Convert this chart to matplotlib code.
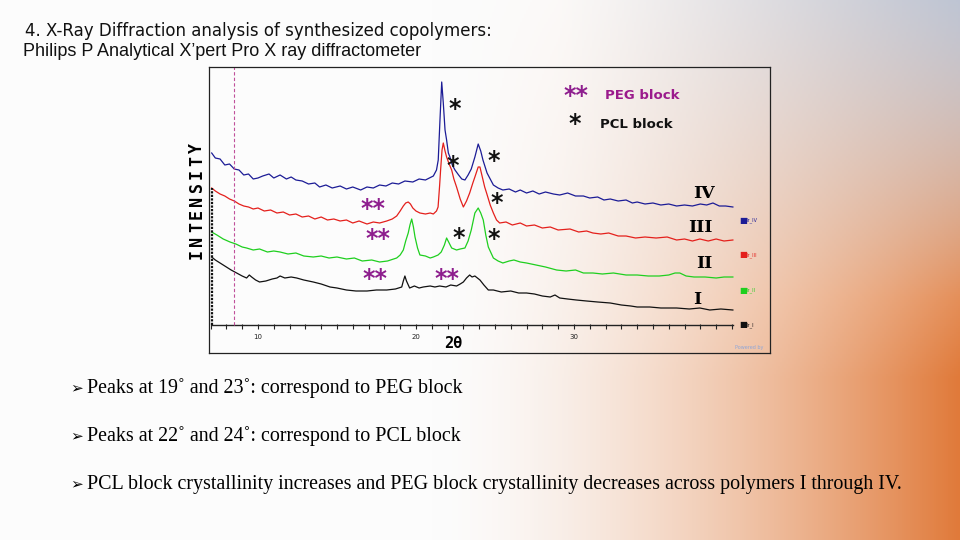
import numpy as np
import matplotlib
matplotlib.use("Agg")
import matplotlib.pyplot as plt

# XRD traces: (2theta, intensity in arbitrary units, offset per sample)
curve_iv = [(7.07, 172), (7.3, 167), (7.6, 166), (7.9, 160), (8.2, 161), (8.5, 156), (8.8, 155),
            (9.1, 150), (9.4, 151), (9.7, 146), (10.0, 147), (10.3, 149), (10.7, 151), (11.0, 147),
            (11.4, 150), (11.8, 146), (12.1, 148), (12.4, 145), (12.8, 144), (13.2, 141), (13.6, 142),
            (13.9, 138), (14.3, 140), (14.7, 137), (15.2, 139), (15.6, 136), (16.0, 138), (16.5, 135),
            (16.9, 138), (17.3, 137), (17.7, 140), (18.1, 139), (18.5, 142), (18.9, 141), (19.3, 144),
            (19.8, 143), (20.2, 146), (20.6, 145), (21.1, 149), (21.3, 155), (21.41, 165), (21.52, 205),
            (21.63, 243), (21.73, 222), (21.84, 195), (21.94, 185), (22.05, 172), (22.15, 168), (22.3, 160),
            (22.47, 155), (22.7, 150), (22.9, 146), (23.1, 145), (23.3, 150), (23.5, 156), (23.73, 168),
            (23.94, 181), (24.1, 174), (24.24, 165), (24.5, 152), (24.9, 140), (25.2, 137), (25.5, 135),
            (25.9, 136), (26.3, 133), (26.6, 135), (27.0, 132), (27.4, 134), (27.8, 131), (28.2, 133),
            (28.7, 131), (29.1, 130), (29.6, 132), (30.1, 129), (30.6, 129), (31.0, 127), (31.5, 128),
            (31.9, 125), (32.3, 126), (32.8, 124), (33.3, 125), (33.7, 122), (34.0, 123), (34.5, 121),
            (35.0, 122), (35.5, 120), (36.0, 121), (36.5, 119), (37.0, 120), (37.5, 119), (38.0, 121),
            (38.4, 120), (38.8, 122), (39.2, 119), (39.6, 119), (40.06, 118)]

curve_iii = [(7.07, 137), (7.3, 134), (7.6, 131), (7.9, 129), (8.2, 126), (8.5, 124), (8.8, 121),
             (9.1, 119), (9.4, 118), (9.7, 116), (10.0, 117), (10.4, 114), (10.8, 115), (11.2, 112),
             (11.6, 113), (12.0, 110), (12.4, 111), (12.8, 108), (13.2, 109), (13.6, 106), (14.0, 108),
             (14.4, 105), (14.8, 106), (15.2, 104), (15.6, 105), (16.0, 102), (16.4, 104), (16.9, 101),
             (17.3, 103), (17.7, 102), (18.15, 104), (18.5, 106), (18.78, 109), (19.0, 114), (19.2, 119),
             (19.35, 122), (19.51, 123), (19.65, 121), (19.8, 117), (20.0, 114), (20.25, 112), (20.6, 111),
             (20.9, 112), (21.1, 111), (21.3, 114), (21.4, 118), (21.5, 140), (21.56, 155), (21.65, 175),
             (21.73, 182), (21.84, 174), (21.94, 168), (22.1, 161), (22.26, 155), (22.4, 146), (22.57, 138),
             (22.8, 126), (23.0, 118), (23.2, 124), (23.4, 132), (23.6, 142), (23.73, 148), (23.94, 158),
             (24.05, 158), (24.2, 148), (24.35, 138), (24.47, 132), (24.7, 120), (24.9, 112), (25.1, 105),
             (25.3, 102), (25.7, 103), (26.1, 100), (26.6, 102), (27.0, 99), (27.5, 100), (28.0, 97),
             (28.5, 98), (29.0, 95), (29.75, 96), (30.3, 93), (30.8, 94), (31.2, 92), (31.7, 91), (32.2, 92),
             (32.8, 89), (33.3, 89), (33.9, 87), (34.5, 88), (35.2, 87), (35.9, 88), (36.5, 85), (37.0, 86),
             (37.5, 84), (37.97, 86), (38.5, 84), (39.0, 86), (39.5, 84), (40.06, 85)]

curve_ii = [(7.07, 93), (7.4, 90), (7.8, 86), (8.23, 83), (8.6, 81), (9.0, 78), (9.28, 77), (9.7, 75),
            (10.1, 76), (10.6, 73), (11.0, 74), (11.4, 73), (11.9, 71), (12.4, 72), (12.9, 69), (13.5, 68),
            (14.0, 69), (14.5, 67), (15.0, 68), (15.6, 66), (16.1, 67), (16.6, 64), (17.2, 65), (17.7, 63),
            (18.2, 64), (18.78, 67), (19.0, 70), (19.2, 75), (19.35, 84), (19.51, 92), (19.62, 100),
            (19.73, 106), (19.84, 98), (19.94, 88), (20.1, 77), (20.25, 70), (20.6, 69), (20.9, 67),
            (21.1, 68), (21.4, 70), (21.6, 73), (21.8, 80), (21.94, 87), (22.1, 82), (22.26, 77), (22.57, 75),
            (22.8, 76), (23.1, 77), (23.3, 84), (23.5, 95), (23.73, 112), (23.94, 117), (24.1, 112),
            (24.26, 105), (24.42, 90), (24.58, 78), (24.9, 67), (25.2, 64), (25.5, 62), (25.9, 64),
            (26.2, 65), (26.6, 63), (27.0, 62), (27.6, 60), (28.2, 58), (28.9, 55), (29.5, 54), (30.1, 55),
            (30.6, 52), (31.2, 52), (31.8, 51), (32.5, 52), (33.3, 50), (34.0, 50), (34.7, 49), (35.4, 49),
            (36.0, 50), (36.4, 52), (36.7, 52), (37.1, 49), (37.6, 48), (38.3, 48), (39.0, 47), (39.5, 48),
            (40.06, 48)]

curve_i = [(7.07, 68), (7.3, 65), (7.6, 62), (8.0, 58), (8.3, 55), (8.65, 52), (9.0, 49), (9.28, 47),
           (9.45, 50), (9.6, 48), (9.85, 45), (10.1, 43), (10.5, 44), (10.9, 46), (11.2, 47), (11.4, 49),
           (11.7, 47), (12.1, 48), (12.45, 47), (12.9, 45), (13.2, 44), (13.5, 43), (14.0, 41), (14.56, 38),
           (15.0, 37), (15.6, 35), (16.2, 34), (16.9, 34), (17.5, 35), (18.15, 35), (18.7, 36), (19.1, 38),
           (19.2, 44), (19.3, 49), (19.4, 44), (19.6, 37), (19.9, 39), (20.2, 37), (20.46, 38), (20.9, 39),
           (21.2, 38), (21.5, 39), (21.9, 38), (22.2, 40), (22.57, 39), (22.8, 41), (23.0, 43), (23.2, 47),
           (23.4, 50), (23.55, 48), (23.73, 49), (24.05, 45), (24.3, 40), (24.58, 35), (24.9, 35),
           (25.4, 33), (26.0, 34), (26.5, 32), (27.0, 32), (27.5, 31), (28.0, 29), (28.5, 28), (28.8, 30),
           (29.1, 27), (29.6, 26), (30.15, 25), (30.8, 24), (31.5, 23), (32.3, 22), (33.0, 20), (33.6, 19),
           (34.0, 18), (34.8, 18), (35.5, 17), (36.5, 17), (37.3, 16), (37.97, 17), (38.6, 15), (39.3, 16),
           (40.06, 15)]

sample_labels = ["IV", "III", "II", "I"]
legend_names = ["Ir_IV", "Ir_III", "Ir_II", "Ir_I"]
curve_colors = ["#1c1c96", "#e4201c", "#1fcf1f", "#111111"]
tick_labels = ["10", "20", "30"]

bullets = ["Peaks at 19˚ and 23˚: correspond to PEG block",
           "Peaks at 22˚ and 24˚: correspond to PCL block",
           "PCL block crystallinity increases and PEG block crystallinity decreases across polymers I through IV."]

W, H = 960, 540
fig = plt.figure(figsize=(9.6, 5.4), dpi=100)

# slide background
bg = fig.add_axes([0, 0, 1, 1])
gx, gy = np.meshgrid(np.linspace(0, 1, 480), np.linspace(0, 1, 270))
white = np.array([252, 252, 252]) / 255
orange = np.array([224, 122, 58]) / 255
grey = np.array([172, 188, 212]) / 255
w_o = np.clip((gx - 0.45) / 0.55, 0, 1) ** 1.6 * np.clip((gy + 0.2) / 0.9, 0, 1)
w_g = 0.75 * np.clip((gx - 0.58) / 0.42, 0, 1) ** 1.2 * np.clip((0.55 - gy) / 0.55, 0, 1)
img = white * (1 - w_o[..., None]) + orange * w_o[..., None]
img = img * (1 - w_g[..., None]) + grey * w_g[..., None]
bg.imshow(img, extent=[0, 1, 0, 1], aspect="auto", origin="upper")
bg.set_axis_off()


def px(x, y):
    return x / W, 1 - y / H


fig.text(*px(25, 31), "4. X-Ray Diffraction analysis of synthesized copolymers:",
         fontsize=12, family="DejaVu Sans", va="center", color="#111111")
fig.text(*px(23, 52), "Philips P Analytical X’pert Pro X ray diffractometer",
         fontsize=13, family="Liberation Sans", va="center", color="#111111")

for i, line in enumerate(bullets):
    yy = 388 + 48 * i
    fig.text(*px(70, yy), "➢", fontsize=11, family="DejaVu Sans", va="center")
    fig.text(*px(87, yy), line, fontsize=14.4, family="Liberation Serif", va="center")

# chart box
ax = fig.add_axes([209 / W, (H - 353) / H, (770 - 209) / W, (353 - 67) / H])
ax.patch.set_alpha(0)
ax.set_xlim(6.9, 42.41)
ax.set_ylim(-28, 258)
ax.set_xticks([])
ax.set_yticks([])
for s in ax.spines.values():
    s.set_linewidth(0.9)
    s.set_color("#222222")

for curve, col in zip([curve_iv, curve_iii, curve_ii, curve_i], curve_colors):
    arr = np.array(curve)
    ax.plot(arr[:, 0], arr[:, 1], color=col, lw=0.9)

# x axis line and ticks
ax.plot([7.07, 40.06], [0, 0], color="#222222", lw=1)
ax.vlines(np.arange(7, 41), -4, 1, color="#222222", lw=0.8)
ax.vlines(7.07, 0, 137, color="#111111", lw=1.6, linestyles=(0, (1, 0.6)))
for lab in tick_labels:
    ax.text(float(lab), -12, lab, fontsize=5, ha="center", va="center", color="#222222")
ax.text(22.34, -18, "2θ", fontsize=11, fontweight="bold", family="DejaVu Sans Mono",
        ha="center", va="center")
ax.vlines(8.48, 0, 258, color="#c0509a", lw=0.8, linestyles=(0, (3, 2)))

# y label, letters spread out as on the slide
for k, ch in enumerate("INTENSITY"):
    fig.text(*px(197, 254 - k * 13.3), ch, rotation=90, fontsize=12, fontweight="bold",
             family="DejaVu Sans Mono", ha="center", va="center")

# annotations
pcl = "#111111"
peg = "#8e1e8e"
star_kw = dict(fontsize=17, fontweight="bold", ha="center", va="center")
ax.text(22.47, 216, "*", color=pcl, **star_kw)
ax.text(22.34, 159, "*", color=pcl, **star_kw)
ax.text(24.94, 164, "*", color=pcl, **star_kw)
ax.text(25.13, 122, "*", color=pcl, **star_kw)
ax.text(22.72, 87, "*", color=pcl, **star_kw)
ax.text(24.94, 86, "*", color=pcl, **star_kw)
ax.text(17.28, 116, "**", color=peg, **star_kw)
ax.text(17.6, 86, "**", color=peg, **star_kw)
ax.text(17.4, 46, "**", color=peg, **star_kw)
ax.text(21.96, 46, "**", color=peg, **star_kw)

ax.text(30.13, 229, "**", color=peg, **star_kw)
ax.text(30.06, 201, "*", color=pcl, **star_kw)
ax.text(31.96, 229, "PEG block", color="#9b1a8c", fontsize=9.5, fontweight="bold",
        ha="left", va="center")
ax.text(31.65, 200, "PCL block", color="#111111", fontsize=9.5, fontweight="bold",
        ha="left", va="center")

label_pos = [(38.23, 132), (37.97, 97), (38.23, 61), (37.78, 25)]
for (lx, ly), lab in zip(label_pos, sample_labels):
    ax.text(lx, ly, lab, fontsize=12.5, fontweight="bold", family="DejaVu Serif",
            ha="center", va="center")

leg_y = [105, 70, 35, 0]
for ly, name, col in zip(leg_y, legend_names, curve_colors):
    ax.text(40.45, ly, "■", color=col, fontsize=6, ha="left", va="center")
    ax.text(40.95, ly, name, color=col, fontsize=3.5, ha="left", va="center")

ax.text(41.1, -23, "Powered by", color="#8fa6d8", fontsize=3.5, ha="center", va="center")

fig.savefig("out.png", dpi=100)
